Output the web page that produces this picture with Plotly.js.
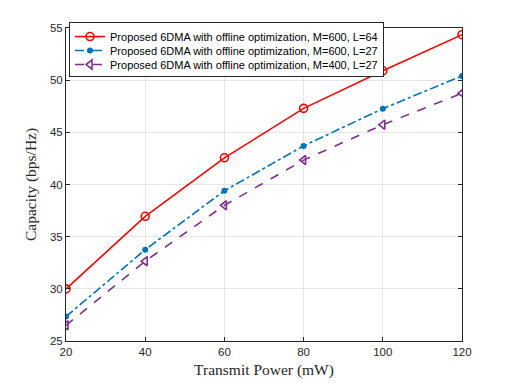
<!DOCTYPE html>
<html><head><meta charset="utf-8">
<script src="https://cdn.plot.ly/plotly-3.0.1.min.js"></script>
<style>html,body{margin:0;padding:0;background:#fff}#chart{width:511px;height:383px}</style>
</head><body><div id="chart"></div>
<script>
var power = [20, 40, 60, 80, 100, 120];
var capM600L64 = [30.0, 36.95, 42.56, 47.3, 50.9, 54.36];
var capM600L27 = [27.34, 33.75, 39.4, 43.7, 47.27, 50.41];
var capM400L27 = [26.5, 32.65, 38.0, 42.34, 45.73, 48.75];
var names = [
  'Proposed 6DMA with offline optimization, M=600, L=64',
  'Proposed 6DMA with offline optimization, M=600, L=27',
  'Proposed 6DMA with offline optimization, M=400, L=27'
];
var traces = [
  {x: power, y: capM600L64, name: names[0], mode: 'lines+markers', type: 'scatter',
   line: {color: '#ff0000', width: 1.6},
   marker: {symbol: 'circle-open', size: 8, color: '#ff0000', line: {width: 1.6, color: '#ff0000'}}},
  {x: power, y: capM600L27, name: names[1], mode: 'lines+markers', type: 'scatter',
   line: {color: '#0072BD', width: 1.6, dash: 'dashdot'},
   marker: {symbol: 'circle', size: 6, color: '#0072BD'}},
  {x: power, y: capM400L27, name: names[2], mode: 'lines+markers', type: 'scatter',
   line: {color: '#7E2F8E', width: 1.6, dash: 'dash'},
   marker: {symbol: 'triangle-left-open', size: 8, color: '#7E2F8E', line: {width: 1.6, color: '#7E2F8E'}}}
];
var axisCommon = {
  showline: true, linecolor: '#262626', linewidth: 1, mirror: 'ticks',
  ticks: 'inside', ticklen: 4, tickcolor: '#262626',
  showgrid: true, gridcolor: '#e6e6e6', gridwidth: 1, zeroline: false,
  tickfont: {family: 'Liberation Sans, Arial, sans-serif', size: 11.5, color: '#262626'}
};
var titleFont = {family: 'Liberation Serif, Times New Roman, serif', size: 15.5, color: '#262626'};
var layout = {
  width: 511, height: 383,
  margin: {l: 66, r: 49, t: 28, b: 42},
  paper_bgcolor: '#ffffff', plot_bgcolor: '#ffffff',
  showlegend: true,
  xaxis: Object.assign({}, axisCommon, {
    range: [20, 120], tickvals: [20, 40, 60, 80, 100, 120],
    title: {text: 'Transmit Power (mW)', standoff: 7, font: titleFont}
  }),
  yaxis: Object.assign({}, axisCommon, {
    range: [25, 55], tickvals: [25, 30, 35, 40, 45, 50, 55],
    title: {text: 'Capacity (bps/Hz)', standoff: 9, font: titleFont}
  }),
  legend: {
    x: 0.0076, y: 1.019, xanchor: 'left', yanchor: 'top',
    bgcolor: '#ffffff', bordercolor: '#262626', borderwidth: 1,
    font: {family: 'Liberation Sans, Arial, sans-serif', size: 11, color: '#000000'},
    tracegroupgap: 0
  }
};
Plotly.newPlot('chart', traces, layout, {displayModeBar: false, staticPlot: true}).then(function () {
  // compact legend rows to MATLAB-like spacing
  var items = document.querySelectorAll('#chart .legend .traces');
  if (items.length < 2) return;
  var parse = function (el) {
    var t = el.getAttribute('transform') || '';
    var m = t.match(/translate\(\s*([-\d.e]+)[ ,]+([-\d.e]+)/);
    return m ? [parseFloat(m[1]), parseFloat(m[2])] : [0, 0];
  };
  var p0 = parse(items[0]), p1 = parse(items[1]);
  var orig = p1[1] - p0[1], step = 14;
  items.forEach(function (el, i) {
    var p = parse(el);
    el.setAttribute('transform', 'translate(' + p[0] + ',' + (p0[1] + i * step - 1) + ')');
  });
  var shrink = (orig - step) * (items.length - 1) + 4;
  var bg = document.querySelector('#chart .legend rect.bg');
  if (bg) bg.setAttribute('height', parseFloat(bg.getAttribute('height')) - shrink);
  var clips = document.querySelectorAll('#chart defs clipPath[id^="legend"] rect');
  clips.forEach(function (r) { r.setAttribute('height', parseFloat(r.getAttribute('height')) - shrink + 2); });
});
</script></body></html>
